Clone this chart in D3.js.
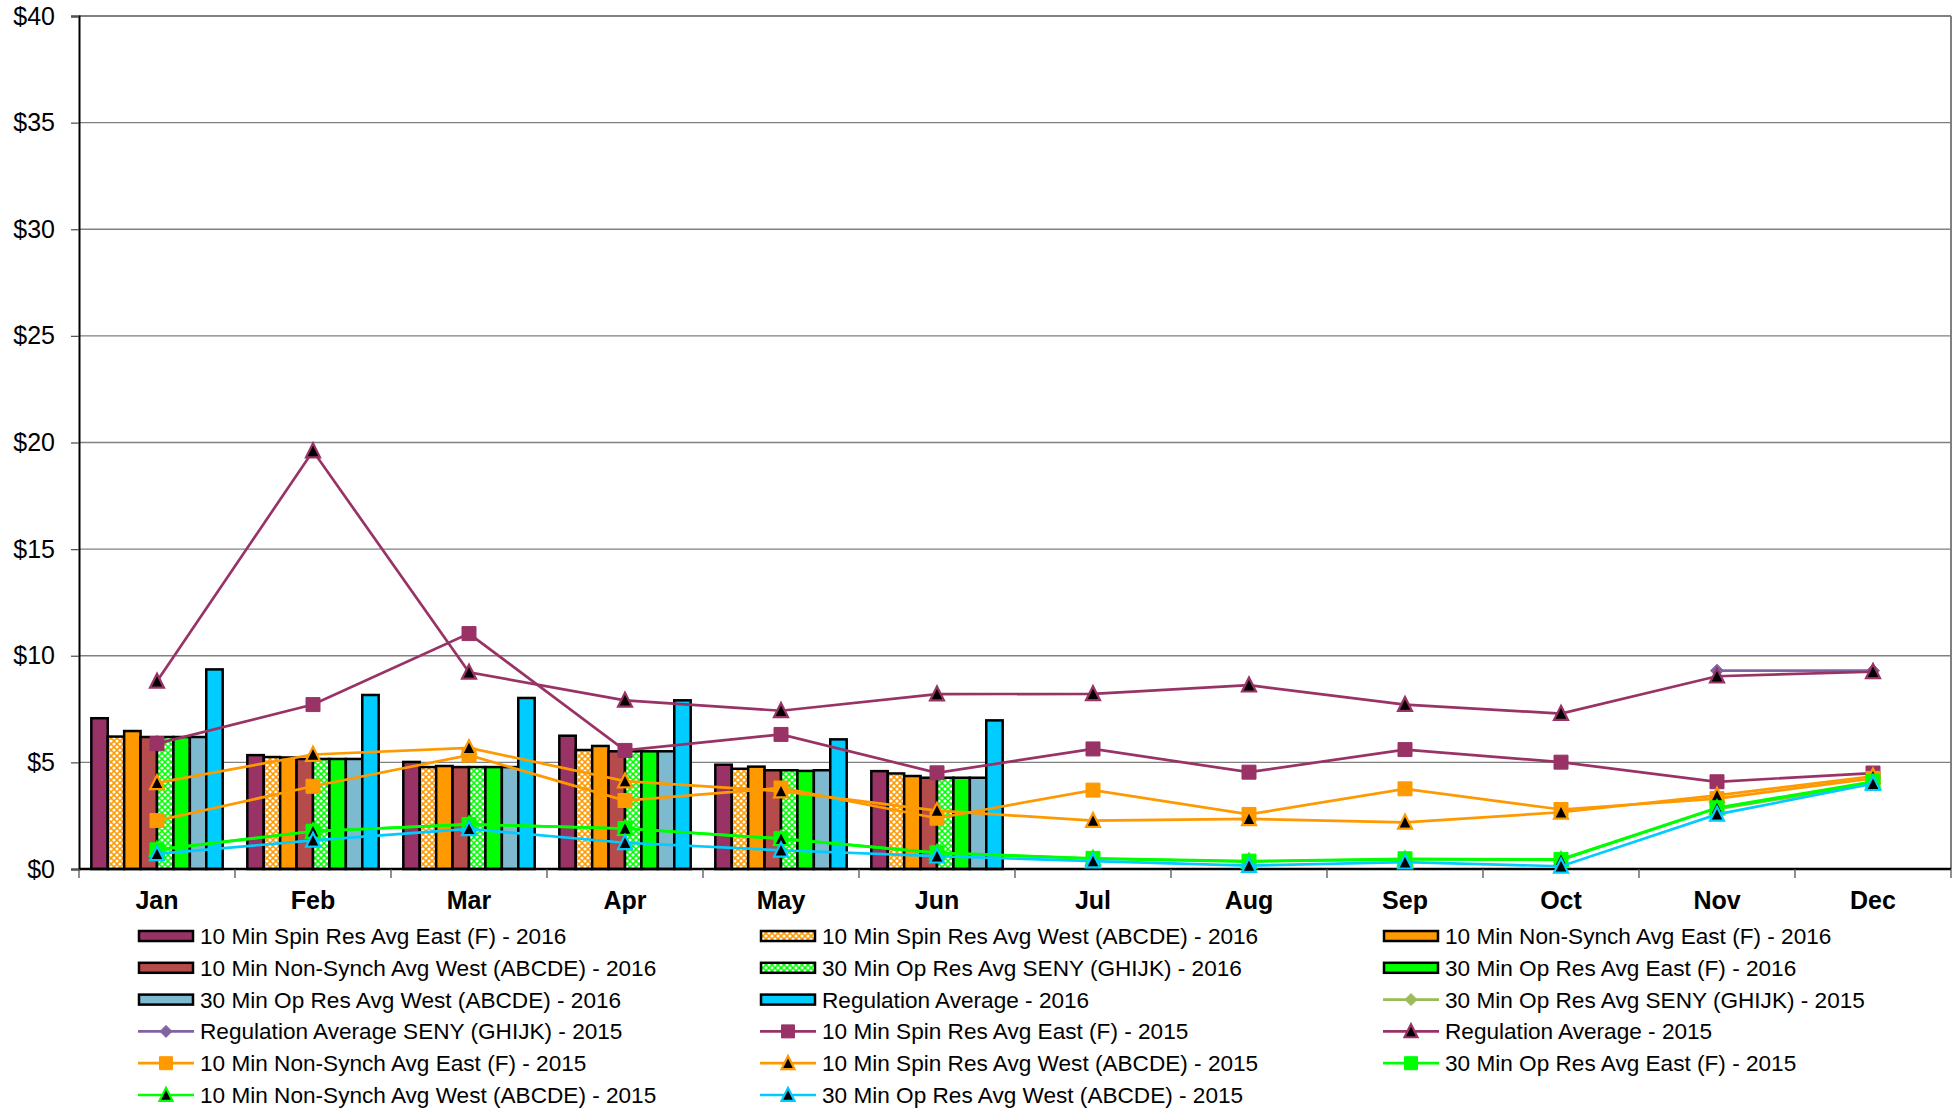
<!DOCTYPE html>
<html>
<head>
<meta charset="utf-8">
<script src="https://cdn.jsdelivr.net/npm/d3@7"></script>
<style>
    body { margin: 0; background: #fff; }
    text { font-family: "Liberation Sans", Arial, sans-serif; }
</style>
</head>
<body>
<svg id="chart" width="1959" height="1108"></svg>
<script>
// categories and ticks
const months = ["Jan", "Feb", "Mar", "Apr", "May", "Jun", "Jul", "Aug", "Sep", "Oct", "Nov", "Dec"];
const yTickValues = [0, 5, 10, 15, 20, 25, 30, 35, 40];

// 2016 (bars, Jan-Jun only)
const spinEast16 = [7.07, 5.34, 5.02, 6.25, 4.89, 4.59];
const spinWest16 = [6.21, 5.25, 4.78, 5.58, 4.70, 4.48];
const nsEast16 = [6.47, 5.23, 4.83, 5.77, 4.80, 4.36];
const nsWest16 = [6.19, 5.16, 4.78, 5.52, 4.63, 4.28];
const opSeny16 = [6.19, 5.16, 4.78, 5.52, 4.63, 4.28];
const opEast16 = [6.19, 5.16, 4.78, 5.52, 4.60, 4.28];
const opWest16 = [6.19, 5.16, 4.78, 5.52, 4.63, 4.28];
const reg16 = [9.36, 8.16, 8.02, 7.91, 6.08, 6.97];

// 2015 (lines)
const opSeny15 = [null, null, null, null, null, null, null, null, null, null, 2.8, 4.0];
const regSeny15 = [null, null, null, null, null, null, null, null, null, null, 9.3, 9.3];
const spinEast15 = [5.88, 7.71, 11.04, 5.56, 6.31, 4.51, 5.63, 4.54, 5.60, 5.01, 4.09, 4.5];
const reg15 = [8.8, 19.6, 9.22, 7.91, 7.42, 8.2, 8.21, 8.62, 7.71, 7.29, 9.04, 9.25];
const nsEast15 = [2.27, 3.88, 5.34, 3.21, 3.8, 2.38, 3.70, 2.56, 3.76, 2.79, 3.3, 4.25];
const spinWest15 = [4.04, 5.37, 5.68, 4.12, 3.65, 2.74, 2.27, 2.35, 2.19, 2.66, 3.45, 4.35];
const opEast15 = [0.9, 1.77, 2.09, 1.9, 1.42, 0.76, 0.5, 0.37, 0.48, 0.45, 2.87, 4.1];
const nsWest15 = [0.91, 1.77, 2.09, 1.9, 1.42, 0.76, 0.48, 0.35, 0.45, 0.43, 2.85, 4.05];
const opWest15 = [0.71, 1.34, 1.88, 1.23, 0.88, 0.60, 0.37, 0.16, 0.32, 0.13, 2.56, 4.0];

const barSeries = [
    { name: "10 Min Spin Res Avg East (F) - 2016", values: spinEast16, fill: "#993366" },
    { name: "10 Min Spin Res Avg West (ABCDE) - 2016", values: spinWest16, fill: "url(#pat-orange)" },
    { name: "10 Min Non-Synch Avg East (F) - 2016", values: nsEast16, fill: "#ff9900" },
    { name: "10 Min Non-Synch Avg West (ABCDE) - 2016", values: nsWest16, fill: "#b54b4b" },
    { name: "30 Min Op Res Avg SENY (GHIJK) - 2016", values: opSeny16, fill: "url(#pat-green)" },
    { name: "30 Min Op Res Avg East (F) - 2016", values: opEast16, fill: "#00ff00" },
    { name: "30 Min Op Res Avg West (ABCDE) - 2016", values: opWest16, fill: "#7db9cf" },
    { name: "Regulation Average - 2016", values: reg16, fill: "#00ccff" }
];

const lineSeries = [
    { name: "30 Min Op Res Avg SENY (GHIJK) - 2015", values: opSeny15, color: "#9bbb59", marker: "diamond", mFill: "#9bbb59" },
    { name: "Regulation Average SENY (GHIJK) - 2015", values: regSeny15, color: "#8064a2", marker: "diamond", mFill: "#8064a2" },
    { name: "10 Min Spin Res Avg East (F) - 2015", values: spinEast15, color: "#993366", marker: "square", mFill: "#993366" },
    { name: "Regulation Average - 2015", values: reg15, color: "#993366", marker: "triangle", mFill: "#000" },
    { name: "10 Min Non-Synch Avg East (F) - 2015", values: nsEast15, color: "#ff9900", marker: "square", mFill: "#ff9900" },
    { name: "10 Min Spin Res Avg West (ABCDE) - 2015", values: spinWest15, color: "#ff9900", marker: "triangle", mFill: "#000" },
    { name: "30 Min Op Res Avg East (F) - 2015", values: opEast15, color: "#00ff00", marker: "square", mFill: "#00ff00" },
    { name: "10 Min Non-Synch Avg West (ABCDE) - 2015", values: nsWest15, color: "#00ff00", marker: "triangle", mFill: "#000" },
    { name: "30 Min Op Res Avg West (ABCDE) - 2015", values: opWest15, color: "#00ccff", marker: "triangle", mFill: "#000" }
];

const plot = { left: 79, right: 1951, top: 16, bottom: 869 };
const svg = d3.select("#chart");

// patterns for the hatched bars
let defs = svg.append("defs");
[["pat-orange", "#ff9900"], ["pat-green", "#00ff00"]].forEach(([id, col]) => {
    let p = defs.append("pattern")
        .attr("id", id)
        .attr("patternUnits", "userSpaceOnUse")
        .attr("width", 6)
        .attr("height", 6);
    p.append("rect").attr("width", 6).attr("height", 6).attr("fill", col);
    [[0, 0], [6, 0], [0, 6], [6, 6], [3, 3]].forEach(([cx, cy]) => {
        p.append("circle").attr("cx", cx).attr("cy", cy).attr("r", 1.6).attr("fill", "#fff");
    });
});

let x = d3.scaleBand().domain(months).range([plot.left, plot.right]).padding(0);
let xInner = d3.scaleBand()
    .domain(barSeries.map(d => d.name))
    .range([0, x.bandwidth()])
    .paddingInner(0)
    .paddingOuter(0.75);
let y = d3.scaleLinear().domain([0, 40]).range([plot.bottom, plot.top]);

// gridlines
svg.append("g")
    .selectAll("line")
    .data(yTickValues.filter(d => d > 0))
    .enter()
    .append("line")
    .attr("x1", plot.left)
    .attr("x2", plot.right)
    .attr("y1", d => y(d))
    .attr("y2", d => y(d))
    .attr("stroke", "#808080")
    .attr("stroke-width", d => d === 40 ? 2 : 1.3);

// right border of plot area
svg.append("line")
    .attr("x1", plot.right).attr("x2", plot.right)
    .attr("y1", plot.top).attr("y2", plot.bottom)
    .attr("stroke", "#808080")
    .attr("stroke-width", 2);

// y axis
let yAxis = svg.append("g")
    .attr("transform", `translate(${plot.left},0)`)
    .call(d3.axisLeft(y).tickValues(yTickValues).tickSize(8).tickPadding(16).tickFormat(d => "$" + d));
yAxis.select(".domain").attr("stroke", "#000").attr("stroke-width", 2);
yAxis.selectAll(".tick line").attr("stroke", "#555").attr("stroke-width", 1.3);
yAxis.selectAll(".tick text")
    .attr("font-size", 25)
    .attr("fill", "#000")
    .style("font-family", '"Liberation Sans", Arial, sans-serif');

// bars
let bw = x.bandwidth();
barSeries.forEach(s => {
    svg.append("g")
        .selectAll("rect")
        .data(s.values.map((v, i) => ({ m: months[i], v: v })).filter(d => d.v != null))
        .enter()
        .append("rect")
        .attr("x", d => x(d.m) + xInner(s.name))
        .attr("y", d => y(d.v))
        .attr("width", xInner.bandwidth())
        .attr("height", d => y(0) - y(d.v))
        .attr("fill", s.fill)
        .attr("stroke", "#000")
        .attr("stroke-width", 2.5);
});

// x axis line and ticks between months
svg.append("line")
    .attr("x1", plot.left).attr("x2", plot.right)
    .attr("y1", y(0)).attr("y2", y(0))
    .attr("stroke", "#000")
    .attr("stroke-width", 2.5);

svg.append("g")
    .selectAll("line")
    .data(months.map(m => x(m)).concat([plot.right]))
    .enter()
    .append("line")
    .attr("x1", d => d).attr("x2", d => d)
    .attr("y1", y(0)).attr("y2", y(0) + 9)
    .attr("stroke", "#555")
    .attr("stroke-width", 1.3);

svg.append("g")
    .selectAll("text")
    .data(months)
    .enter()
    .append("text")
    .attr("x", d => x(d) + bw / 2)
    .attr("y", y(0) + 40)
    .attr("text-anchor", "middle")
    .attr("font-size", 25)
    .attr("font-weight", "bold")
    .text(d => d);

// markers
function markerPath(type, s) {
    if (type === "square") return `M${-s / 2},${-s / 2}h${s}v${s}h${-s}Z`;
    if (type === "diamond") return `M0,${-s / 2}L${s / 2},0L0,${s / 2}L${-s / 2},0Z`;
    return `M0,${-s * 0.55}L${s / 2},${s * 0.45}L${-s / 2},${s * 0.45}Z`;
}
function markerSize(type) {
    return type === "square" ? 14 : type === "diamond" ? 13 : 14;
}

// lines
let line = d3.line()
    .defined(d => d.v != null)
    .x(d => x(d.m) + bw / 2)
    .y(d => y(d.v));

lineSeries.forEach(s => {
    let pts = s.values.map((v, i) => ({ m: months[i], v: v }));
    let g = svg.append("g");
    g.append("path")
        .datum(pts)
        .attr("d", line)
        .attr("fill", "none")
        .attr("stroke", s.color)
        .attr("stroke-width", 2.7);
    g.selectAll(".mk")
        .data(pts.filter(d => d.v != null))
        .enter()
        .append("path")
        .attr("transform", d => `translate(${x(d.m) + bw / 2},${y(d.v)})`)
        .attr("d", markerPath(s.marker, markerSize(s.marker)))
        .attr("fill", s.mFill)
        .attr("stroke", s.color)
        .attr("stroke-width", s.marker === "triangle" ? 2.2 : 1);
});

// legend
let legendItems = barSeries.map(d => ({ kind: "bar", s: d })).concat(lineSeries.map(d => ({ kind: "line", s: d })));
let colX = [138, 760, 1383];
let rowY0 = 936, rowStep = 31.8;

let leg = svg.append("g")
    .selectAll("g")
    .data(legendItems)
    .enter()
    .append("g")
    .attr("transform", (d, i) => `translate(${colX[i % 3]},${rowY0 + Math.floor(i / 3) * rowStep})`);

leg.filter(d => d.kind === "bar")
    .append("rect")
    .attr("x", 1).attr("y", -5)
    .attr("width", 54).attr("height", 10)
    .attr("fill", d => d.s.fill)
    .attr("stroke", "#000")
    .attr("stroke-width", 2.5);

let lineLeg = leg.filter(d => d.kind === "line");
lineLeg.append("line")
    .attr("x1", 0).attr("x2", 56)
    .attr("y1", 0).attr("y2", 0)
    .attr("stroke", d => d.s.color)
    .attr("stroke-width", 2.7);
lineLeg.append("path")
    .attr("transform", "translate(28,0)")
    .attr("d", d => markerPath(d.s.marker, markerSize(d.s.marker) - 1))
    .attr("fill", d => d.s.mFill)
    .attr("stroke", d => d.s.color)
    .attr("stroke-width", d => d.s.marker === "triangle" ? 2.2 : 1);

leg.append("text")
    .attr("x", 62)
    .attr("y", 0)
    .attr("dy", "0.35em")
    .attr("font-size", 22.6)
    .text(d => d.s.name);
</script>
</body>
</html>
